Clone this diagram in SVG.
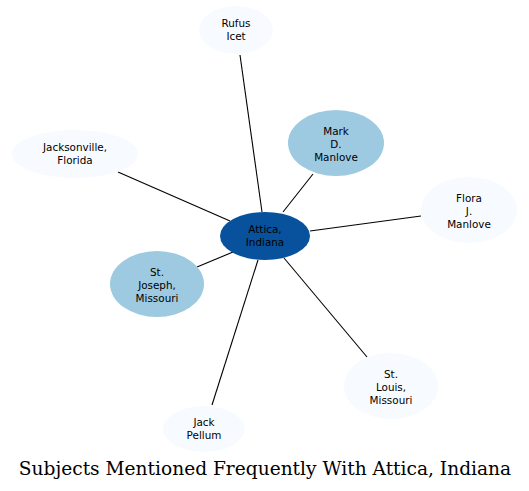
<svg xmlns="http://www.w3.org/2000/svg" width="529" height="491" viewBox="0 0 529 491">
<style>
.e{stroke:#000;stroke-width:1.1;fill:none}
.lt{fill:#f7fbff}
.md{fill:#9ecae1}
.dk{fill:#08519c}
text{font-family:"DejaVu Sans",sans-serif;font-size:10.4px;text-anchor:middle;fill:#000}
.title{font-family:"DejaVu Serif",serif;font-size:18.6px}
</style>
<rect width="529" height="491" fill="#fff"/>
<g id="edges">
<line class="e" x1="240" y1="55" x2="262" y2="212"/>
<line class="e" x1="118" y1="172" x2="230" y2="221"/>
<line class="e" x1="313" y1="174" x2="283" y2="212"/>
<line class="e" x1="421" y1="216" x2="310" y2="231"/>
<line class="e" x1="197" y1="267" x2="233" y2="252"/>
<line class="e" x1="367" y1="357" x2="284" y2="258"/>
<line class="e" x1="212" y1="405" x2="258" y2="260"/>
</g>
<g id="rufus"><ellipse class="lt" cx="236" cy="30" rx="37" ry="24"/><text x="236" y="27">Rufus</text><text x="236" y="40">Icet</text></g>
<g id="jacksonville"><ellipse class="lt" cx="75" cy="154" rx="63" ry="24"/><text x="75" y="151">Jacksonville,</text><text x="75" y="164">Florida</text></g>
<g id="mark"><ellipse class="md" cx="336" cy="143" rx="48" ry="33"/><text x="336" y="135">Mark</text><text x="336" y="148">D.</text><text x="336" y="161">Manlove</text></g>
<g id="flora"><ellipse class="lt" cx="469" cy="210" rx="48" ry="33"/><text x="469" y="202">Flora</text><text x="469" y="215">J.</text><text x="469" y="228">Manlove</text></g>
<g id="attica"><ellipse class="dk" cx="265" cy="236" rx="45" ry="24"/><text x="265" y="233">Attica,</text><text x="265" y="246">Indiana</text></g>
<g id="stjoseph"><ellipse class="md" cx="157" cy="284" rx="47" ry="33"/><text x="157" y="276">St.</text><text x="157" y="289">Joseph,</text><text x="157" y="302">Missouri</text></g>
<g id="stlouis"><ellipse class="lt" cx="391" cy="386" rx="47" ry="33"/><text x="391" y="378">St.</text><text x="391" y="391">Louis,</text><text x="391" y="404">Missouri</text></g>
<g id="jack"><ellipse class="lt" cx="204" cy="429" rx="41" ry="23"/><text x="204" y="426">Jack</text><text x="204" y="439">Pellum</text></g>
<text class="title" x="265" y="475">Subjects Mentioned Frequently With Attica, Indiana</text>
</svg>
